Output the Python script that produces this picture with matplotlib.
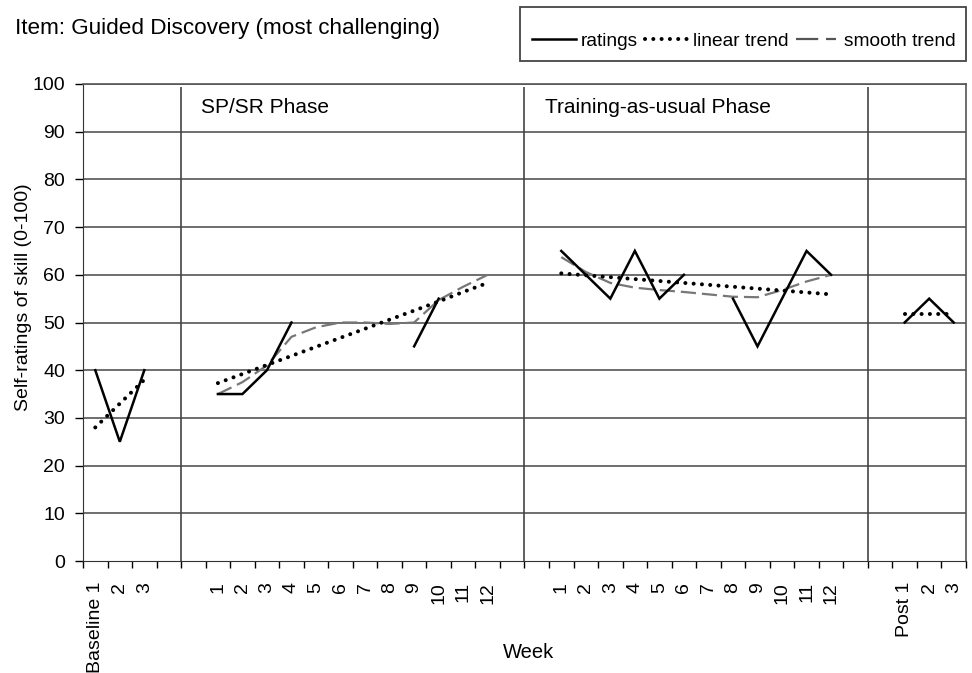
import numpy as np
import matplotlib
matplotlib.use("Agg")
import matplotlib.pyplot as plt
from matplotlib.lines import Line2D
from matplotlib.patches import Rectangle

plt.rcParams['font.family'] = ['Liberation Sans', 'DejaVu Sans']

nan = np.nan
# Category axis (36 slots, blanks are spacer slots)
categories = ["Baseline 1", "2", "3", "", "",
              "1", "2", "3", "4", "5", "6", "7", "8", "9", "10", "11", "12", "", "",
              "1", "2", "3", "4", "5", "6", "7", "8", "9", "10", "11", "12", "", "",
              "Post 1", "2", "3"]

# Baseline
base_ratings = [40, 25, 40]
base_linear = [28, 33, 38]
# SP/SR phase (weeks 1-12)
sp_ratings = [35, 35, 40, 50, nan, nan, nan, nan, 45, 55, nan, nan]
sp_linear = [37.3, 39.2, 41.1, 43.0, 44.9, 46.8, 48.7, 50.6, 52.5, 54.4, 56.4, 58.3]
sp_smooth = [35, 37.5, 41, 47, 49, 50, 50, 49.7, 50, 54.7, 57.5, 60]
# Training-as-usual phase (weeks 1-12)
tau_ratings = [65, 60, 55, 65, 55, 60, nan, 55, 45, 55, 65, 60]
tau_linear = [60.3, 59.9, 59.5, 59.1, 58.7, 58.3, 57.9, 57.5, 57.1, 56.7, 56.3, 55.9]
tau_smooth = [63.7, 60.6, 58.3, 57.3, 56.8, 56.4, 55.9, 55.4, 55.3, 56.8, 58.6, 60]
# Post
post_ratings = [50, 55, 50]
post_linear = [51.7, 51.7, 51.7]

phase_start = {"base": 0, "sp": 5, "tau": 19, "post": 33}
dividers = [4, 18, 32]
phase_labels = [("SP/SR Phase", 4), ("Training-as-usual Phase", 18)]

fig = plt.figure(figsize=(9.72, 6.73), dpi=100)
ax = fig.add_axes([0.0854, 0.1664, 0.9084, 0.7088])

def xs(start, n):
    return np.arange(start, start + n) + 0.5

rating_kw = dict(color='black', lw=1.8, solid_joinstyle='miter')
lin_kw = dict(color='black', lw=2.9, linestyle=(0, (0.01, 2.05)), dash_capstyle='round')
smooth_kw = dict(color='#777777', lw=1.6, linestyle=(0, (6.8, 2.7)))

for key, r, l, s in [("base", base_ratings, base_linear, None),
                     ("sp", sp_ratings, sp_linear, sp_smooth),
                     ("tau", tau_ratings, tau_linear, tau_smooth),
                     ("post", post_ratings, post_linear, None)]:
    x = xs(phase_start[key], len(r))
    if s is not None:
        ax.plot(x, s, zorder=3, **smooth_kw)
    ax.plot(x, l, zorder=4, **lin_kw)
    ax.plot(x, r, zorder=5, **rating_kw)

# grid
for yv in range(10, 101, 10):
    ax.axhline(yv, color='#555555', lw=1.2, zorder=1)
ax.vlines(dividers, 0, 99.3, color='#444444', lw=1.2, zorder=2)

for txt, xd in phase_labels:
    ax.text(xd + 0.83, 95.1, txt, fontsize=15, ha='left', va='center')

ax.set_xlim(0, 36)
ax.set_ylim(0, 100)
ax.set_yticks(range(0, 101, 10))
ax.tick_params(axis='y', labelsize=14, length=6, width=1, direction='out', pad=7)
ax.set_xticks(np.arange(0, 37))
ax.set_xticklabels([])
ax.set_xticks(np.arange(36) + 0.5, minor=True)
ax.set_xticklabels(categories, minor=True, rotation=90, fontsize=14)
ax.tick_params(axis='x', which='major', length=5, width=1, direction='out')
ax.tick_params(axis='x', which='minor', length=0, pad=15)

for side in ['top', 'right']:
    ax.spines[side].set_color('#555555')
    ax.spines[side].set_linewidth(1.2)
ax.spines['left'].set_color('#333333')
ax.spines['bottom'].set_color('#333333')

ax.set_ylabel("Self-ratings of skill (0-100)", fontsize=14)
ax.yaxis.set_label_coords(-0.058, 0.553)
fig.text(0.544, 0.031, "Week", fontsize=14.5, ha='center', va='center')
fig.text(0.015, 0.958, "Item: Guided Discovery (most challenging)", fontsize=16.2,
         ha='left', va='center')

# legend box
fig.patches.append(Rectangle((520 / 972, 1 - 61 / 673), 446 / 972, 54 / 673,
                             transform=fig.transFigure, fill=False,
                             ec='#444444', lw=1.3))
handles = [Line2D([], [], **rating_kw),
           Line2D([], [], **lin_kw),
           Line2D([], [], color='#555555', lw=1.6, linestyle=(0, (10, 3.5, 4.5, 3.5)))]
leg = fig.legend(handles, ["ratings", "linear trend", "smooth trend"], ncol=3,
                 loc='center', bbox_to_anchor=(744 / 972, 1 - 41 / 673), fontsize=13.8,
                 frameon=False, handlelength=2.3, handletextpad=0.2,
                 columnspacing=0.4, borderpad=0, borderaxespad=0)

fig.savefig("out.png", dpi=100)
